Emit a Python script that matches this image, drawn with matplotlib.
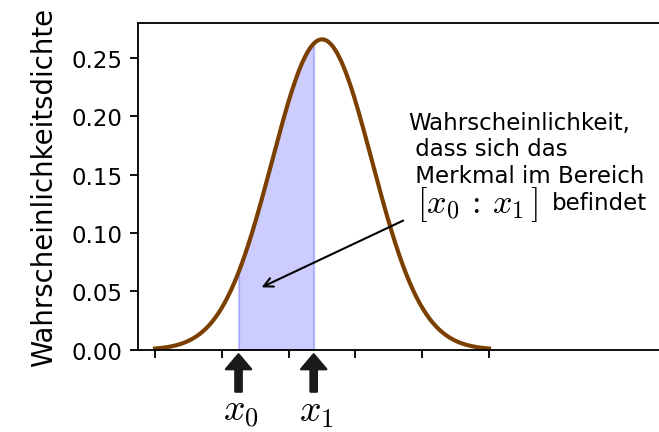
import numpy as np
import matplotlib
matplotlib.use('Agg')
import matplotlib.pyplot as plt

plt.rcParams['mathtext.fontset'] = 'cm'

#distribution parameters
mu = 5.0
sigma = 1.5
x_start, x_end = 0.0, 10.0
x0, x1 = 2.5, 4.75
xtick_pos = [0, 2, 4, 6, 8, 10]
ytick_pos = [0.00, 0.05, 0.10, 0.15, 0.20, 0.25]

def normal_pdf(x, mu, sigma):
    """density of the normal distribution"""
    return np.exp(-(x - mu)**2 / (2*sigma**2)) / (sigma*np.sqrt(2*np.pi))

xs = np.linspace(x_start, x_end, 400)
ys = normal_pdf(xs, mu, sigma)

fig = plt.figure(figsize=(659/165, 433/165), dpi=165)
ax = fig.add_axes([0.2099, 0.190, 0.811, 0.7546])

#shaded area between x0 and x1
xs_fill = np.linspace(x0, x1, 100)
ax.fill_between(xs_fill, normal_pdf(xs_fill, mu, sigma), color='blue', alpha=0.2)
ax.plot(xs, ys, color='#7b3f00', lw=1.8)

ax.set_xlim(-0.5, 15.5)
ax.set_ylim(0, 0.28)
ax.set_xticks(xtick_pos)
ax.set_xticklabels([])
ax.set_yticks(ytick_pos)
ax.set_ylabel('Wahrscheinlichkeitsdichte', fontsize=12, labelpad=5.5)

#arrows below the axis for x0 and x1
for xv, lab in [(x0, '$x_0$'), (x1, '$x_1$')]:
    ax.annotate('', xy=(xv, 0), xytext=(0, -18.3), textcoords='offset points',
                arrowprops=dict(arrowstyle='simple,head_length=0.65,head_width=1.1,tail_width=0.28',
                                mutation_scale=10, color='#1a1a1a', shrinkA=0, shrinkB=2),
                annotation_clip=False)
    ax.annotate(lab, xy=(xv, 0), xytext=(1, -19), textcoords='offset points',
                ha='center', va='top', fontsize=16.5, annotation_clip=False)

#explanation text with arrow into the shaded area
ax.annotate('', xy=(3.19, 0.0535), xytext=(7.43, 0.1107),
            arrowprops=dict(arrowstyle='->', lw=0.9, color='black', shrinkA=0, shrinkB=0))
ax.text(7.57, 0.1439, 'Wahrscheinlichkeit,\n dass sich das\n Merkmal im Bereich',
        fontsize=10, va='baseline', ha='left')
ax.text(7.84, 0.118, r'$[x_0\,:\,x_1\,]$', fontsize=15, va='baseline', ha='left')
ax.text(11.89, 0.1207, 'befindet', fontsize=10, va='baseline', ha='left')

fig.savefig('out.png', dpi=165)
